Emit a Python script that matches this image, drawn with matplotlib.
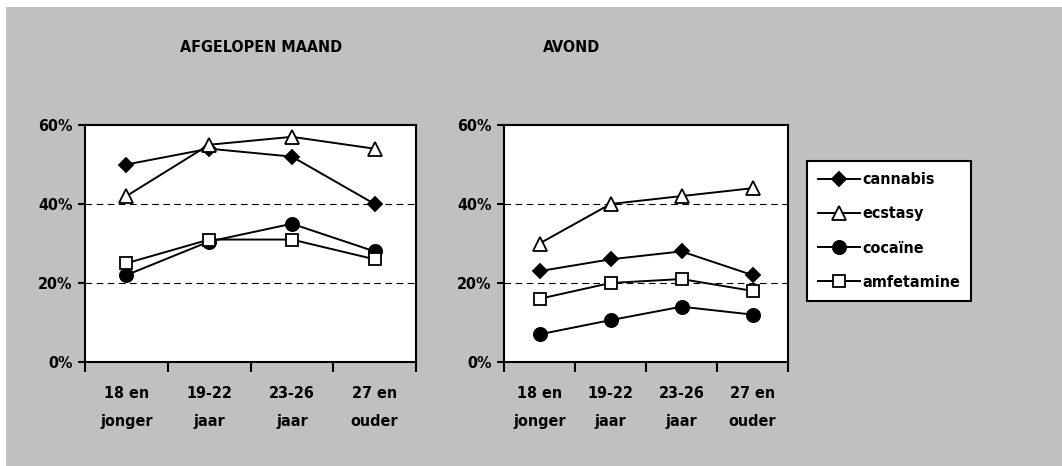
import numpy as np
import matplotlib.pyplot as plt
from matplotlib.patches import Rectangle

plt.rcParams['font.family'] = ['DejaVu Sans']
plt.rcParams['font.stretch'] = 'condensed'
plt.rcParams['font.weight'] = 'bold'

categories = ['18 en\njonger', '19-22\njaar', '23-26\njaar', '27 en\nouder']

maand_cannabis = [50, 54, 52, 40]
maand_ecstasy = [42, 55, 57, 54]
maand_cocaine = [22, 30.5, 35, 28]
maand_amfetamine = [25, 31, 31, 26]

avond_cannabis = [23, 26, 28, 22]
avond_ecstasy = [30, 40, 42, 44]
avond_cocaine = [7, 10.6, 14, 12]
avond_amfetamine = [16, 20, 21, 18]

W, H = 1062, 466
fig = plt.figure(figsize=(W / 100, H / 100), dpi=100)
fig.patch.set_facecolor('white')
fig.patches.append(Rectangle((6 / W, 0), 1, 1 - 7 / H, transform=fig.transFigure,
                             facecolor='#c0c0c0', edgecolor='none', zorder=-10))


def px_axes(x0, y0, x1, y1):
    return fig.add_axes([x0 / W, 1 - y1 / H, (x1 - x0) / W, (y1 - y0) / H])


styles = [
    ('cannabis', dict(marker='D', markersize=7, markerfacecolor='black')),
    ('ecstasy', dict(marker='^', markersize=9.5, markerfacecolor='white')),
    ('cocaïne', dict(marker='o', markersize=9.5, markerfacecolor='black')),
    ('amfetamine', dict(marker='s', markersize=8, markerfacecolor='white')),
]


def draw_panel(ax, series, title, title_x):
    x = np.arange(len(categories))
    ax.set_facecolor('white')
    for (label, st), vals in zip(styles, series):
        ax.plot(x, vals, color='black', lw=1.4, markeredgecolor='black',
                markeredgewidth=1.3, label=label, clip_on=False, zorder=3, **st)
    ax.set_xlim(-0.5, 3.5)
    ax.set_ylim(0, 60)
    ax.set_yticks([0, 20, 40, 60])
    ax.set_yticklabels(['0%', '20%', '40%', '60%'], fontsize=11.5, fontweight='bold')
    for yv in [20, 40]:
        ax.axhline(yv, color='black', lw=0.8, ls=(0, (6, 4)), zorder=1)
    ax.set_xticks(np.arange(-0.5, 4, 1))
    ax.set_xticklabels([])
    ax.set_xticks(x, minor=True)
    ax.set_xticklabels(categories, minor=True, fontsize=11.5, fontweight='bold',
                       linespacing=2.1)
    ax.tick_params(axis='x', which='minor', length=0, pad=17)
    ax.tick_params(axis='x', which='major', length=7, width=1.5, direction='out')
    ax.tick_params(axis='y', length=5, width=1.5, direction='out', pad=4)
    for s in ax.spines.values():
        s.set_linewidth(1.5)
    fig.text(title_x / W, 1 - 47 / H, title, ha='center', va='center',
             fontsize=11.5, fontweight='bold')


ax1 = px_axes(85, 125, 416, 362)
draw_panel(ax1, [maand_cannabis, maand_ecstasy, maand_cocaine, maand_amfetamine],
           'AFGELOPEN MAAND', 261)

ax2 = px_axes(504, 125, 788, 362)
draw_panel(ax2, [avond_cannabis, avond_ecstasy, avond_cocaine, avond_amfetamine],
           'AVOND', 572)

handles, labels = ax2.get_legend_handles_labels()
leg = fig.legend(handles, labels, loc='upper left',
                 bbox_to_anchor=(807 / W, 1 - 161 / H), frameon=True,
                 fancybox=False, edgecolor='black', facecolor='white',
                 framealpha=1, prop={'size': 11.5, 'weight': 'bold'},
                 handlelength=2.6, handletextpad=0.15, labelspacing=1.2,
                 borderpad=0.7, borderaxespad=0)
leg.get_frame().set_linewidth(1.5)

fig.savefig('out.png', dpi=100, facecolor=fig.get_facecolor())
